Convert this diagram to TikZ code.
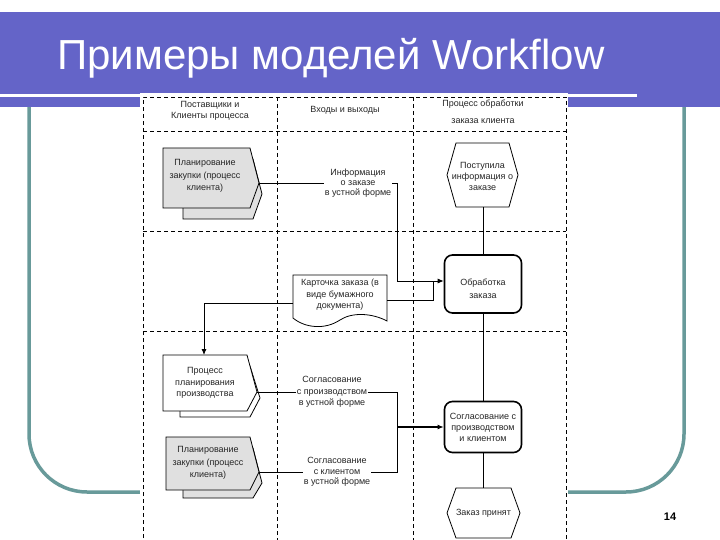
\documentclass[tikz,border=0pt]{standalone}
\usepackage{fontspec}
\setmainfont{Liberation Sans}
\usetikzlibrary{arrows.meta}
\definecolor{bandblue}{RGB}{100,100,200}
\definecolor{frameteal}{RGB}{104,154,154}
\definecolor{boxgray}{RGB}{224,224,224}
\begin{document}
\begin{tikzpicture}[x=1pt,y=-1pt,
  txt/.style={font=\fontsize{9}{11}\selectfont, align=center, text=black!85, inner sep=1pt},
  dashln/.style={dash pattern=on 4pt off 3pt, line width=0.8pt},
  conn/.style={line width=0.9pt},
  arr/.style={conn,-{Latex[length=6pt,width=5pt]}},
  shp/.style={draw, line width=0.8pt},
  procbox/.style={draw, line width=1.6pt, rounded corners=8pt, minimum width=77pt, txt}
]
\useasboundingbox (0,0) rectangle (720,540);
\fill[white] (0,0) rectangle (720,540);
% slide frame
\draw[frameteal, line width=3.5pt, rounded corners=58pt] (29,100) -- (29,492) -- (684,492) -- (684,100);
\fill[bandblue] (0,12) rectangle (720,107);
\fill[white] (0,94.5) rectangle (637,97.5);
\node[anchor=base west, text=white, font=\fontsize{42}{50}\selectfont, inner sep=0] (title) at (57,70) {Примеры моделей Workflow};
\node[font=\bfseries\fontsize{11}{13}\selectfont, inner sep=0] (pnum) at (670,517) {14};
% diagram background
\fill[white] (140,93) rectangle (568,540);
% swimlanes
\draw[dashln] (143,545) -- (143,97) -- (566,97) -- (566,545);
\foreach \xx in {277,413} \draw[dashln] (\xx,97) -- (\xx,545);
\foreach \yy in {131,231,331} \draw[dashln] (143,\yy) -- (566,\yy);
% headers
\node[txt] (hA) at (210,111) {Поставщики и\\Клиенты процесса};
\node[txt] (hB) at (345,110) {Входы и выходы};
\node[txt, font=\fontsize{9}{17}\selectfont] (hC) at (483,111.5) {Процесс обработки\\заказа клиента};
% external process 1
\filldraw[shp, fill=boxgray] (183,159) -- (253,159) -- (262,194) -- (253,219) -- (183,219) -- cycle;
\filldraw[shp, fill=boxgray] (163,148) -- (250,148) -- (259,183) -- (250,208) -- (163,208) -- cycle;
\node[txt, font=\fontsize{9}{12.5}\selectfont] (ext1) at (205,176) {Планирование\\закупки (процесс\\клиента)};
\coordinate (ext1tip) at (259,183);
% production planning
\filldraw[shp, fill=white] (180,366) -- (250,366) -- (260,398) -- (250,417) -- (180,417) -- cycle;
\filldraw[shp, fill=white] (163,355) -- (247,355) -- (257,392) -- (247,411) -- (163,411) -- cycle;
\node[txt, font=\fontsize{9}{11.5}\selectfont] (proc) at (205,383) {Процесс\\планирования\\производства};
\coordinate (proctip) at (257,392);
\coordinate (procN) at (204,355);
% external process 2
\filldraw[shp, fill=boxgray] (183,448) -- (253,448) -- (262,483) -- (253,498) -- (183,498) -- cycle;
\filldraw[shp, fill=boxgray] (166,437) -- (250,437) -- (259,472) -- (250,490) -- (166,490) -- cycle;
\node[txt, font=\fontsize{9}{12.5}\selectfont] (ext3) at (208,463) {Планирование\\закупки (процесс\\клиента)};
\coordinate (ext3tip) at (259,472);
% inputs / outputs
\node[txt, font=\fontsize{9}{10}\selectfont] (info) at (358,183) {Информация\\о заказе\\в устной форме};
\filldraw[shp, fill=white] (293,275) -- (387,275) -- (387,321) .. controls (372,313) and (352,312) .. (340,320) .. controls (325,330) and (305,328) .. (293,318) -- cycle;
\node[txt, font=\fontsize{9}{11.5}\selectfont] (card) at (340,295) {Карточка заказа (в\\виде бумажного\\документа)};
\coordinate (cardE) at (387,300);
\coordinate (cardW) at (293,303);
\node[txt, font=\fontsize{9}{11.5}\selectfont] (agr1) at (332,392) {Согласование\\с производством\\в устной форме};
\node[txt, font=\fontsize{9}{10.5}\selectfont] (agr2) at (337,472) {Согласование\\с клиентом\\в устной форме};
% process lane
\filldraw[shp, fill=white] (447,175) -- (456,143) -- (509,143) -- (518,175) -- (509,207) -- (456,207) -- cycle;
\node[txt] (hex1) at (482.5,176) {Поступила\\информация о\\заказе};
\coordinate (hex1S) at (483,207);
\node[procbox, minimum height=58pt] (ord) at (483,284) {};
\node[txt, font=\fontsize{9}{13}\selectfont] (ordtxt) at (483,289) {Обработка\\заказа};
\node[procbox, minimum height=51pt] (agr) at (483,427) {Согласование с\\производством\\и клиентом};
\filldraw[shp, fill=white] (447,513) -- (456,488) -- (511,488) -- (520,513) -- (511,538) -- (456,538) -- cycle;
\node[txt] (acc) at (483.5,513) {Заказ принят};
\coordinate (accN) at (483,488);
% junctions
\coordinate (j1) at (397,281);
\coordinate (j2) at (433,281);
\coordinate (j3) at (397,427);
% connectors
\draw[conn] (ext1tip) -- (info.west);
\draw[conn] (info.east) -| (j1);
\draw[arr] (j1) -- (ord.west |- j1);
\draw[conn] (cardE) -| (j2);
\draw[arr] (cardW) -| (procN);
\draw[conn] (hex1S) -- (ord.north);
\draw[conn] (ord.south) -- (agr.north);
\draw[conn] (agr.south) -- (accN);
\draw[conn] (proctip) -- (agr1.west);
\draw[conn] (ext3tip) -- (agr2.west);
\draw[conn] (agr1.east) -| (j3);
\draw[conn] (agr2.east) -| (j3);
\draw[arr, line width=1.5pt] (j3) -- (agr.west);
\end{tikzpicture}
\end{document}
